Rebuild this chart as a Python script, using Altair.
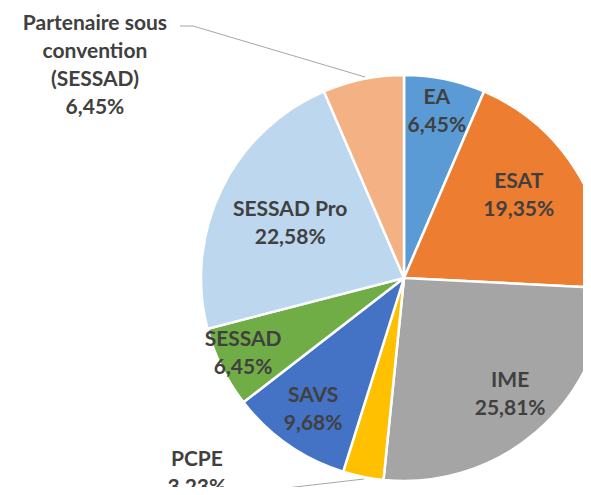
import altair as alt
import pandas as pd

categories = ["EA", "ESAT", "IME", "PCPE", "SAVS", "SESSAD", "SESSAD Pro",
              "Partenaire sous convention (SESSAD)"]
label_names = ["EA", "ESAT", "IME", "PCPE", "SAVS", "SESSAD", "SESSAD Pro",
               "Partenaire sous\nconvention\n(SESSAD)"]
values = [6.45, 19.35, 25.81, 3.23, 9.68, 6.45, 22.58, 6.45]
colors = ["#5B9BD5", "#ED7D31", "#A5A5A5", "#FFC000", "#4472C4", "#70AD47",
          "#BDD7EE", "#F4B183"]

# label placement (style): polar angle in degrees from north, radius in px
label_angle = [11.2, 54.5, 137.8, 226.6, 214.6, 244.7, 295.4, 304.5]
label_radius = [169, 141, 158, 285, 160, 178, 126, 375]

CX, CY, R = 396, 270, 203
LH = 28

df = pd.DataFrame({
    "cat": categories,
    "value": values,
    "idx": list(range(len(values))),
    "label": [n + "\n" + f"{v:.2f}".replace(".", ",") + "%"
              for n, v in zip(label_names, values)],
    "nlines": [n.count("\n") + 2 for n in label_names],
    "ang": [a * 3.141592653589793 / 180 for a in label_angle],
    "rad": label_radius,
})

base = alt.Chart(df)

pie = base.mark_arc(outerRadius=R, stroke="white", strokeWidth=2.5).encode(
    theta=alt.Theta("value:Q", stack=True),
    order=alt.Order("idx:Q"),
    color=alt.Color("cat:N", scale=alt.Scale(domain=categories, range=colors), legend=None),
    x=alt.value(CX),
    y=alt.value(CY),
)


def text_layer(n):
    return base.transform_filter(f"datum.nlines == {n}").mark_text(
        font="Lato", fontWeight="bold", fontSize=21, color="#404040",
        lineBreak="\n", lineHeight=LH, align="center", baseline="middle",
        dy=-(n - 1) * LH / 2,
    ).encode(
        theta=alt.Theta("ang:Q", scale=None, stack=False),
        radius=alt.Radius("rad:Q", scale=None),
        text="label:N",
        x=alt.value(CX),
        y=alt.value(CY),
    )


lead = pd.DataFrame({
    "x": [172, 185, 235], "y": [18, 18, 485],
    "x2": [185, 357, 356], "y2": [18, 69, 471],
})
leaders = alt.Chart(lead).mark_rule(color="#A6A6A6", strokeWidth=1).encode(
    x=alt.X("x:Q", scale=None), y=alt.Y("y:Q", scale=None),
    x2="x2:Q", y2="y2:Q",
)

chart = alt.layer(pie, leaders, text_layer(2), text_layer(4)).properties(
    width=575, height=479, padding=0,
    autosize=alt.AutoSizeParams(type="none"),
).configure_view(stroke=None)

chart.save("out.html", embed_options={"renderer": "svg", "actions": False})
